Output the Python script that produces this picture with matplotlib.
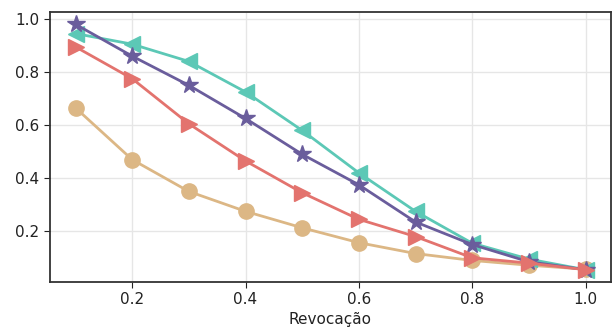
import matplotlib
matplotlib.use("Agg")
import matplotlib.pyplot as plt

recall = [0.1, 0.2, 0.3, 0.4, 0.5, 0.6, 0.7, 0.8, 0.9, 1.0]
prec_teal = [0.945, 0.905, 0.84, 0.725, 0.58, 0.42, 0.275, 0.155, 0.095, 0.055]
prec_purple = [0.98, 0.86, 0.75, 0.625, 0.49, 0.375, 0.235, 0.15, 0.085, 0.055]
prec_red = [0.895, 0.775, 0.605, 0.465, 0.345, 0.245, 0.18, 0.10, 0.08, 0.055]
prec_tan = [0.665, 0.47, 0.35, 0.275, 0.213, 0.157, 0.116, 0.09, 0.072, 0.057]

fig = plt.figure(figsize=(6.16, 3.30), dpi=100)
ax = fig.add_axes([50 / 616, 48 / 330, 561 / 616, 270 / 330])

ax.plot(recall, prec_tan, color="#dcb785", marker="o", markersize=11, linewidth=2.0)
ax.plot(recall, prec_teal, color="#5cc8b6", marker="<", markersize=11, linewidth=2.0)
ax.plot(recall, prec_purple, color="#6a5d9c", marker="*", markersize=13, linewidth=2.0)
ax.plot(recall, prec_red, color="#e3736e", marker=">", markersize=11, linewidth=2.0)

ax.set_xticks([0.2, 0.4, 0.6, 0.8, 1.0])
ax.set_yticks([0.2, 0.4, 0.6, 0.8, 1.0])
ax.grid(True, color="#e6e6e6", linewidth=1)
ax.set_axisbelow(True)
for side in ["left", "bottom", "top", "right"]:
    ax.spines[side].set_color("#333333")
    ax.spines[side].set_linewidth(1.3)
ax.tick_params(labelsize=11, colors="#222222", length=4)
ax.set_xlabel("Revocação", fontsize=11, color="#222222", labelpad=3)

fig.savefig("out.png", dpi=100)
